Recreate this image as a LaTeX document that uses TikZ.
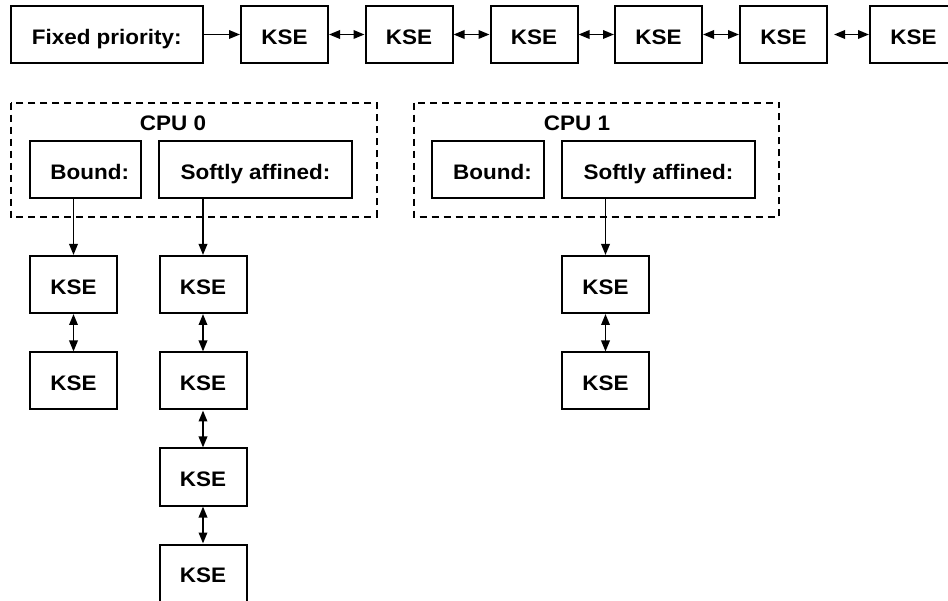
\documentclass[tikz,border=0pt]{standalone}
\usepackage{fontspec}
\setmainfont{Liberation Sans}[FakeStretch=1.07]
\usetikzlibrary{arrows.meta}
\begin{document}
\begin{tikzpicture}[x=1pt,y=-1pt,
  box/.style={draw,line width=2pt,minimum height=57pt,inner sep=0pt,text height=19.5pt,text depth=0pt,font=\fontsize{21}{25}\selectfont\bfseries},
  kse/.style={box,minimum width=87pt},
  cpubox/.style={draw,line width=1.8pt,dash pattern=on 7pt off 5pt},
  lbl/.style={font=\fontsize{21}{25}\selectfont\bfseries,inner sep=0pt},
  arr/.style={line width=1.8pt,-{Triangle[length=11pt,width=8.5pt]}},
  darr/.style={line width=1.8pt,{Triangle[length=11pt,width=8.5pt]}-{Triangle[length=11pt,width=8.5pt]}}]
\useasboundingbox (0,0) rectangle (948,601);
\clip (0,0) rectangle (948,601);
% top row
\node[box,minimum width=192pt] (fixed) at (106.7,34.5) {Fixed priority:};
\node[kse] (t1) at (284.5,34.5) {KSE};
\node[kse] (t2) at (409,34.5) {KSE};
\node[kse] (t3) at (534,34.5) {KSE};
\node[kse] (t4) at (658.5,34.5) {KSE};
\node[kse] (t5) at (783.5,34.5) {KSE};
\node[kse] (t6) at (913.5,34.5) {KSE};
\draw[arr] (fixed) -- (t1);
\draw[darr] (t1) -- (t2);
\draw[darr] (t2) -- (t3);
\draw[darr] (t3) -- (t4);
\draw[darr] (t4) -- (t5);
\draw[darr,shorten <=6pt] (t5) -- (t6);
% CPU 0
\draw[cpubox] (10.7,102.7) rectangle (376.7,217);
\node[lbl] (cpu0) at (173,123) {CPU 0};
\node[box,minimum width=110.7pt] (b0) at (85.3,169.3) {\hspace*{9pt}Bound:};
\node[box,minimum width=193pt] (s0) at (255.5,169.3) {Softly affined:};
% CPU 1
\draw[cpubox] (414,102.7) rectangle (779,217);
\node[lbl] (cpu1) at (577,123) {CPU 1};
\node[box,minimum width=112pt] (b1) at (488,169.3) {\hspace*{9pt}Bound:};
\node[box,minimum width=193pt] (s1) at (658.5,169.3) {Softly affined:};
% columns
\node[kse] (a1) at (73.5,284.5) {KSE};
\node[kse] (a2) at (73.5,381) {KSE};
\node[kse] (c1) at (203,284.5) {KSE};
\node[kse] (c2) at (203,381) {KSE};
\node[kse] (c3) at (203,477) {KSE};
\node[kse] (c4) at (203,573) {KSE};
\node[kse] (d1) at (605.5,284.5) {KSE};
\node[kse] (d2) at (605.5,381) {KSE};
\draw[arr] (b0.south -| a1) -- (a1.north);
\draw[arr] (s0.south -| c1) -- (c1.north);
\draw[arr] (s1.south -| d1) -- (d1.north);
\draw[darr] (a1) -- (a2);
\draw[darr] (c1) -- (c2);
\draw[darr] (c2) -- (c3);
\draw[darr] (c3) -- (c4);
\draw[darr] (d1) -- (d2);
\end{tikzpicture}
\end{document}
